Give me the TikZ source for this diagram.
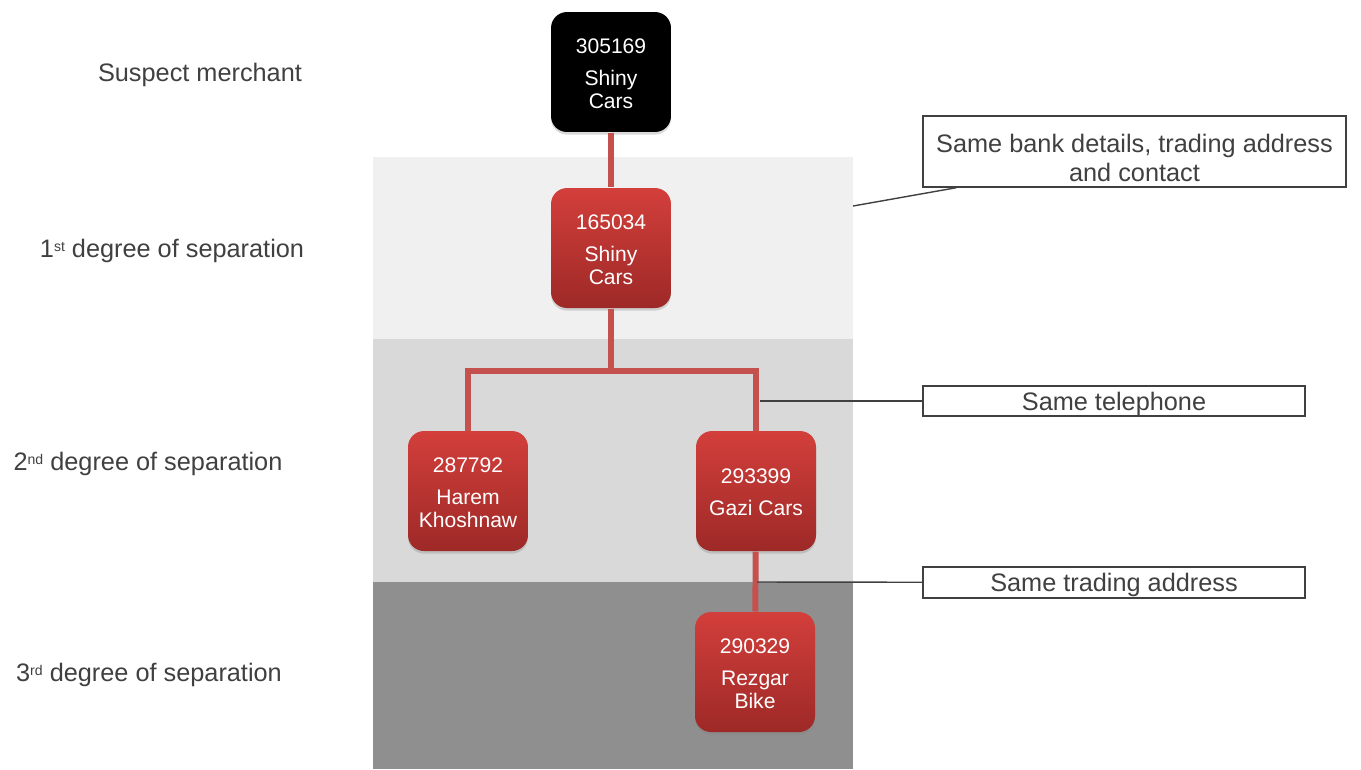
\documentclass[tikz,border=0pt]{standalone}
\usepackage{fontspec}
\setmainfont{Liberation Sans}
\usepackage{tikz}
\usetikzlibrary{shadows}

\definecolor{linkred}{HTML}{C4514E}
\definecolor{boxtop}{HTML}{D33F3B}
\definecolor{boxbot}{HTML}{9D2927}
\definecolor{bandone}{HTML}{F0F0F0}
\definecolor{bandtwo}{HTML}{D9D9D9}
\definecolor{bandthree}{HTML}{8F8F8F}
\definecolor{textgray}{HTML}{404040}

\newcommand{\ordsup}[1]{\raisebox{3.4pt}{\fontsize{8}{8}\selectfont #1}}

\begin{document}
\begin{tikzpicture}[x=0.02cm, y=-0.02cm, semithick, align=center,
    every node/.style={font=\fontsize{12}{13}\selectfont}]

  \tikzstyle{merchant}=[rounded corners=0.32cm, minimum width=2.4cm,
  minimum height=2.4cm, inner sep=1pt, text=white, text depth=0pt,
  drop shadow={opacity=0.3, shadow xshift=0pt, shadow yshift=-1.5pt}]
  \tikzstyle{threeline}=[text height=41.6pt]
  \tikzstyle{twoline}=[text height=28pt]
  \tikzstyle{linked}=[merchant, top color=boxtop, bottom color=boxbot]
  \tikzstyle{suspect}=[merchant, fill=black]
  \tikzstyle{link}=[draw=linkred, line width=3.4pt]
  \tikzstyle{note}=[draw=textgray, line width=0.8pt, fill=white, text=textgray,
  font=\fontsize{14.4}{16.4}\selectfont, inner sep=1pt, text height=10.5pt,
  text depth=0pt]
  \tikzstyle{pointer}=[draw=textgray, line width=0.8pt]
  \tikzstyle{degree}=[text=textgray, font=\fontsize{14.4}{17}\selectfont,
  text height=10.5pt, text depth=0pt]

  \useasboundingbox (0,0) rectangle (1361,769);

  % bands
  \fill[bandone] (373,157) rectangle (853,339);
  \fill[bandtwo] (373,339) rectangle (853,582);
  \fill[bandthree] (373,582) rectangle (853,769);

  \node[degree] (SUSPECTLBL) at (200,72) {Suspect merchant};
  \node[degree] (FIRSTLBL) at (172,248) {1\ordsup{st} degree of separation};
  \node[degree] (SECONDLBL) at (148,461) {2\ordsup{nd} degree of separation};
  \node[degree] (THIRDLBL) at (149,672) {3\ordsup{rd} degree of separation};

  \coordinate (SPLIT) at (611,371);
  \coordinate (BANKEND) at (853,206);
  \coordinate (PHONEEND) at (760,401);
  \coordinate (ADDREND) at (757,582);

  \node[suspect, threeline] (SUSPECT) at (611,72) {305169\\[5.5pt]Shiny\\Cars};
  \node[linked, threeline] (FIRST) at (611,248) {165034\\[5.5pt]Shiny\\Cars};
  \node[linked, threeline] (HAREM) at (468,491) {287792\\[5.5pt]Harem\\Khoshnaw};
  \node[linked, twoline] (GAZI) at (756,491) {293399\\[5.5pt]Gazi Cars};
  \node[linked, threeline] (REZGAR) at (755,672) {290329\\[5.5pt]Rezgar\\Bike};

  \draw[link] (SUSPECT) -- (FIRST);
  \draw[link] (FIRST) -- (SPLIT);
  \draw[link] (HAREM) |- (SPLIT) -| (GAZI);
  \draw[link] (GAZI) -- (REZGAR);

  \node[note, minimum width=8.46cm, minimum height=1.42cm, text height=33.6pt]
  (BANK) at (1134.5,151.5) {Same bank details, trading address\\and contact};
  \node[note, minimum width=7.64cm, minimum height=0.6cm] (PHONE) at (1114,401)
  {Same telephone};
  \node[note, minimum width=7.64cm, minimum height=0.62cm] (ADDRESS) at (1114,582.5)
  {Same trading address};

  \draw[pointer] (BANKEND) -- ([xshift=0.68cm]BANK.south west);
  \draw[pointer] (PHONEEND) -- (PHONE);
  \draw[pointer] (ADDREND) -- (ADDRESS);
\end{tikzpicture}
\end{document}
